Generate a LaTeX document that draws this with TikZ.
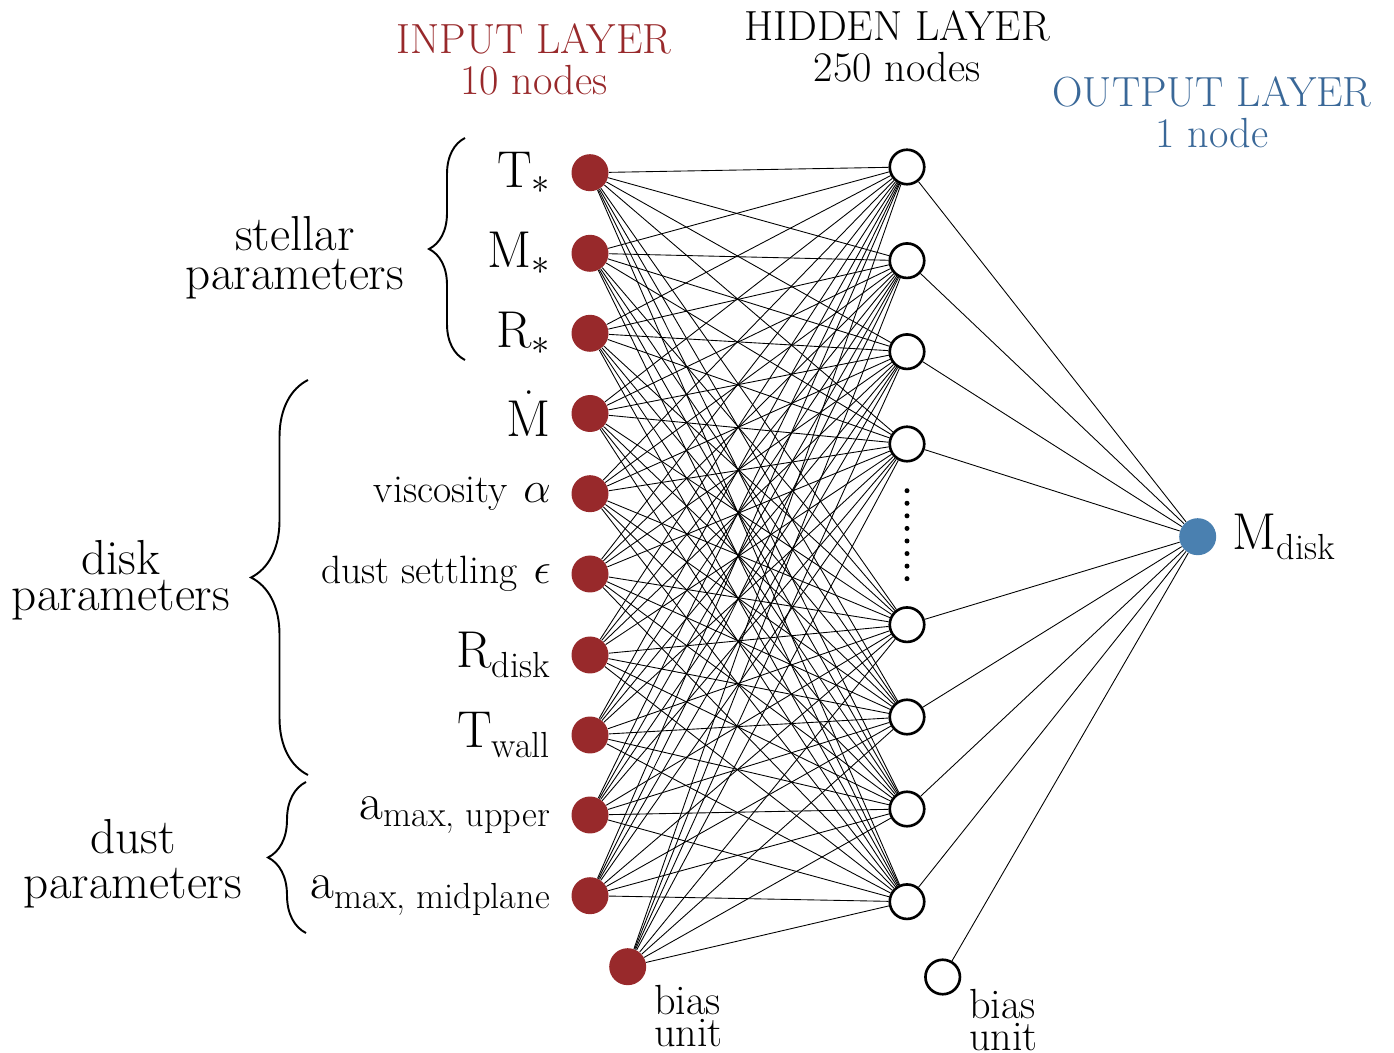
\documentclass[tikz,border=0pt]{standalone}
\usepackage{fontspec}
\usepackage{amsmath}
\usetikzlibrary{decorations.pathreplacing,calc}
\definecolor{inred}{RGB}{152,41,43}
\definecolor{outblue}{RGB}{74,128,176}
\definecolor{outtext}{RGB}{58,104,152}

\begin{document}
\begin{tikzpicture}[x=0.02cm,y=-0.02cm,
  innode/.style={circle,fill=inred,inner sep=0pt,minimum size=0.74cm},
  hidnode/.style={circle,draw=black,line width=1.5pt,fill=white,inner sep=0pt,minimum size=0.69cm},
  outnode/.style={circle,fill=outblue,inner sep=0pt,minimum size=0.74cm},
  wire/.style={line width=0.5pt},
  bracket/.style={decorate,decoration={brace,amplitude=#1},line width=1.1pt},
  header/.style={align=center,inner sep=0pt,anchor=north,font=\fontsize{24}{23.5}\selectfont},
  grouplabel/.style={align=center,inner sep=0pt},
  inlabel/.style={anchor=east,inner sep=0pt,font=\fontsize{29.5}{31}\selectfont},
  biaslabel/.style={align=left,inner sep=0pt,anchor=north west,font=\fontsize{24}{18}\selectfont}]
\useasboundingbox (0,0) rectangle (1394,1053);

% layer headers
\node[header,text=inred] (hin) at (534,23) {INPUT LAYER\\10 nodes};
\node[header] (hhid) at (897,10) {HIDDEN LAYER\\250 nodes};
\node[header,text=outtext] (hout) at (1212,76) {OUTPUT LAYER\\1 node};

% input layer
\foreach \n/\y in {1/172.7,2/253.3,3/333.3,4/413.5,5/493.7,6/574,7/655,8/735,9/815,10/895.7}
  \node[innode] (i\n) at (590,\y) {};
\node[innode] (ib) at (627.7,966.7) {};

% hidden layer
\foreach \n/\y in {1/167,2/260.7,3/351.7,4/444,5/624.7,6/717,7/809,8/901.7}
  \node[hidnode] (h\n) at (907,\y) {};
\node[hidnode] (hb) at (942.7,977) {};

% ellipsis between the hidden nodes
\foreach \k in {0,...,7}
  \fill (907,490.7+\k*12.57) circle (0.05cm);

% output layer
\node[outnode] (out) at (1197.7,536.7) {};

% connections
\foreach \i in {1,...,10,b}
  \foreach \j in {1,...,8}
    \draw[wire] (i\i) -- (h\j);
\foreach \j in {1,...,8,b}
  \draw[wire] (h\j) -- (out);

% input labels
\foreach \n/\lab in {
  1/{$\mathrm{T}_{*}$},
  2/{$\mathrm{M}_{*}$},
  3/{$\mathrm{R}_{*}$},
  4/{$\dot{\mathrm{M}}$},
  5/{{\fontsize{22.5}{24}\selectfont viscosity} $\alpha$},
  6/{{\fontsize{22.5}{24}\selectfont dust settling} $\epsilon$},
  7/{$\mathrm{R}_{\text{disk}}$},
  8/{$\mathrm{T}_{\text{wall}}$},
  9/{$\mathrm{a}_{\text{max, upper}}$},
  10/{$\mathrm{a}_{\text{max, midplane}}$}}
  \node[inlabel] (l\n) at ($(i\n.west)+(-20,0)$) {\lab};

% output label
\node[anchor=west,inner sep=0pt,font=\fontsize{29.5}{31}\selectfont] (lout) at ($(out.east)+(16,0)$) {$\mathrm{M}_{\text{disk}}$};

% bias labels
\node[biaslabel] (lbin) at (654,985) {bias\\unit};
\node[biaslabel] (lbhid) at (969,989) {bias\\unit};

% parameter groups
\draw[bracket=0.72cm] (465,360) -- (465,138);
\draw[bracket=1.14cm] (308,775) -- (308,380);
\draw[bracket=0.76cm] (306,933) -- (306,782);
\node[grouplabel,font=\fontsize{28}{22}\selectfont] (gstellar) at (295,258) {stellar\\parameters};
\node[grouplabel,font=\fontsize{28}{20.5}\selectfont] (gdisk) at (121,580) {disk\\parameters};
\node[grouplabel,font=\fontsize{28}{25.5}\selectfont] (gdust) at (133,864) {dust\\parameters};
\end{tikzpicture}
\end{document}
